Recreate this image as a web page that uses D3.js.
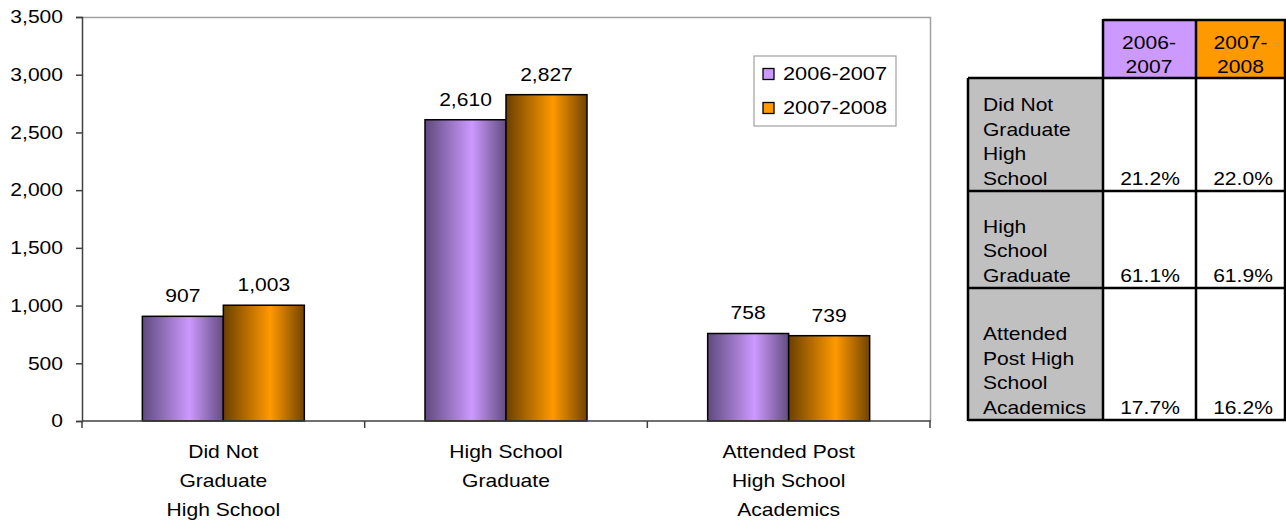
<!DOCTYPE html>
<html>
<head>
<meta charset="utf-8">
<script src="https://cdn.jsdelivr.net/npm/d3@7"></script>
<style>
	body { margin:0; background:#fff; }
	svg text { font-family:"Liberation Sans", Arial, sans-serif; font-size:18px; fill:#000; }
</style>
</head>
<body>
<svg id="CHART" width="1286" height="520"></svg>
<script>
// ---- data ----
var categories = ["Did Not Graduate High School", "High School Graduate", "Attended Post High School Academics"];
var categoryLines = [["Did Not", "Graduate", "High School"], ["High School", "Graduate"], ["Attended Post", "High School", "Academics"]];
var seriesNames = ["2006-2007", "2007-2008"];
var values0607 = [907, 2610, 758];
var values0708 = [1003, 2827, 739];
var yTicks = [0, 500, 1000, 1500, 2000, 2500, 3000, 3500];

var tableHead = [["2006-", "2007"], ["2007-", "2008"]];
var tableRowLines = [["Did Not", "Graduate", "High", "School"], ["High", "School", "Graduate"], ["Attended", "Post High", "School", "Academics"]];
var pct0607 = ["21.2%", "61.1%", "17.7%"];
var pct0708 = ["22.0%", "61.9%", "16.2%"];

(function(){
	var svg = d3.select("#CHART");
	var plot = {left:82, right:930, top:17, bottom:421};
	var colors = ["#cc99ff", "#ff9900"];
	var SX = 1.17; // the original text is a bit wide

	// text placed at (x, y), stretched horizontally
	function addText(parent, x, y, anchor){
		return parent.append("text")
			.attr("transform", "translate(" + x + ",0) scale(" + SX + ",1)")
			.attr("x", 0).attr("y", y)
			.attr("text-anchor", anchor || "start");
	}
	function addLines(parent, x, yFirst, step, lines, anchor){
		var t = addText(parent, x, 0, anchor);
		lines.forEach(function(l, k){
			t.append("tspan").attr("x", 0).attr("y", yFirst + k * step).text(l);
		});
		return t;
	}

	// gradients for the bars
	var defs = svg.append("defs");
	var gradStops = [
		[["0%", "#5f4a7d"], ["58%", "#cc99ff"], ["100%", "#634c80"]],
		[["0%", "#6b4000"], ["58%", "#ff9900"], ["100%", "#704400"]]
	];
	gradStops.forEach(function(st, i){
		var g = defs.append("linearGradient").attr("id", "grad" + i)
			.attr("x1", "0%").attr("x2", "100%").attr("y1", "0%").attr("y2", "0%");
		st.forEach(function(s){ g.append("stop").attr("offset", s[0]).attr("stop-color", s[1]); });
	});

	var x0 = d3.scaleBand().domain(categories).range([plot.left, plot.right]).padding(0);
	var x1 = d3.scaleBand().domain(seriesNames).range([0, x0.bandwidth()]).paddingInner(0).paddingOuter(0.745);
	var y = d3.scaleLinear().domain([0, 3500]).range([plot.bottom, plot.top]);

	// plot frame (top / right)
	svg.append("path")
		.attr("d", "M" + plot.left + "," + (plot.top + 0.5) + "H" + (plot.right + 0.5) + "V" + plot.bottom)
		.attr("fill", "none").attr("stroke", "#a0a0a0").attr("stroke-width", 1.5);

	// y axis
	var yAxis = svg.append("g").attr("transform", "translate(" + plot.left + ",0)")
		.call(d3.axisLeft(y).tickValues(yTicks).tickSize(6).tickPadding(13).tickFormat(d3.format(",")));
	yAxis.attr("font-size", null).attr("font-family", null);
	yAxis.select(".domain").attr("stroke", "#404040").attr("stroke-width", 1.5);
	yAxis.selectAll(".tick line").attr("stroke", "#404040").attr("stroke-width", 1.5);
	yAxis.selectAll(".tick text")
		.attr("fill", "#000")
		.attr("x", 0)
		.attr("transform", "translate(-19,0) scale(" + SX + ",1)");

	// bars
	var data = categories.map(function(c, i){
		return {cat:c, vals:[values0607[i], values0708[i]]};
	});
	var groups = svg.selectAll(".grp").data(data).enter().append("g")
		.attr("class", "grp")
		.attr("transform", function(d){ return "translate(" + x0(d.cat) + ",0)"; });

	groups.selectAll("rect").data(function(d){ return d.vals.map(function(v, j){ return {s:seriesNames[j], v:v, j:j}; }); })
		.enter().append("rect")
		.attr("x", function(d){ return x1(d.s); })
		.attr("width", x1.bandwidth())
		.attr("y", function(d){ return y(d.v); })
		.attr("height", function(d){ return y(0) - y(d.v); })
		.attr("fill", function(d){ return "url(#grad" + d.j + ")"; })
		.attr("stroke", "#000").attr("stroke-width", 1.5);

	groups.each(function(d){
		var g = d3.select(this);
		d.vals.forEach(function(v, j){
			addText(g, x1(seriesNames[j]) + x1.bandwidth() / 2, y(v) - 14, "middle")
				.text(d3.format(",")(v));
		});
	});

	// x axis
	svg.append("line").attr("x1", plot.left).attr("x2", plot.right + 1)
		.attr("y1", plot.bottom).attr("y2", plot.bottom)
		.attr("stroke", "#404040").attr("stroke-width", 1.5);
	var edges = categories.map(function(c){ return x0(c); }).concat([plot.right]);
	svg.selectAll(".xtick").data(edges).enter().append("line")
		.attr("x1", function(d){ return d; }).attr("x2", function(d){ return d; })
		.attr("y1", plot.bottom).attr("y2", plot.bottom + 7)
		.attr("stroke", "#404040").attr("stroke-width", 1.5);

	categories.forEach(function(c, i){
		addLines(svg, x0(c) + x0.bandwidth() / 2, 458, 29, categoryLines[i], "middle");
	});

	// legend
	var lg = svg.append("g").attr("transform", "translate(754,56)");
	lg.append("rect").attr("width", 142).attr("height", 70)
		.attr("fill", "#fff").attr("stroke", "#a0a0a0").attr("stroke-width", 1.2);
	seriesNames.forEach(function(s, i){
		lg.append("rect").attr("x", 9).attr("y", 12.5 + i * 34).attr("width", 11).attr("height", 11)
			.attr("fill", colors[i]).attr("stroke", "#000").attr("stroke-width", 1.3);
		addText(lg, 29, 24.5 + i * 34).style("font-size", "18.6px").text(s);
	});

	// table
	var tb = {left:968, c1:1103, c2:1196, right:1286, top:20, head:78};
	var rowEdges = [78, 191, 288, 420];
	var colX = [tb.c1, tb.c2];
	var colW = [tb.c2 - tb.c1, tb.right - tb.c2];
	var tg = svg.append("g");

	// header cells
	tableHead.forEach(function(h, i){
		tg.append("rect").attr("x", colX[i]).attr("y", tb.top).attr("width", colW[i]).attr("height", tb.head - tb.top)
			.attr("fill", colors[i]);
		addLines(tg, colX[i] + 46 - i * 1.5, tb.top + 29, 24, h, "middle");
	});

	// body rows
	tableRowLines.forEach(function(lines, r){
		var yTop = rowEdges[r], yBot = rowEdges[r + 1];
		tg.append("rect").attr("x", tb.left).attr("y", yTop).attr("width", tb.c1 - tb.left).attr("height", yBot - yTop)
			.attr("fill", "#c0c0c0");
		addLines(tg, tb.left + 15, yBot - 6 - (lines.length - 1) * 24.5, 24.5, lines);
		[pct0607[r], pct0708[r]].forEach(function(p, c){
			addText(tg, colX[c] + 47, yBot - 6, "middle").text(p);
		});
	});

	// grid lines of the table
	var lineStyle = function(sel){ return sel.attr("stroke", "#000").attr("stroke-width", 2.5); };
	lineStyle(tg.append("line").attr("x1", tb.c1).attr("x2", tb.right).attr("y1", tb.top).attr("y2", tb.top));
	rowEdges.forEach(function(e){
		lineStyle(tg.append("line").attr("x1", tb.left).attr("x2", tb.right).attr("y1", e).attr("y2", e));
	});
	lineStyle(tg.append("line").attr("x1", tb.left).attr("x2", tb.left).attr("y1", tb.head).attr("y2", rowEdges[3] + 1));
	[tb.c1, tb.c2].forEach(function(cx){
		lineStyle(tg.append("line").attr("x1", cx).attr("x2", cx).attr("y1", tb.top - 1).attr("y2", rowEdges[3] + 1));
	});
	lineStyle(tg.append("line").attr("x1", tb.right - 1).attr("x2", tb.right - 1).attr("y1", tb.top - 1).attr("y2", rowEdges[3] + 1));
})();
</script>
</body>
</html>
